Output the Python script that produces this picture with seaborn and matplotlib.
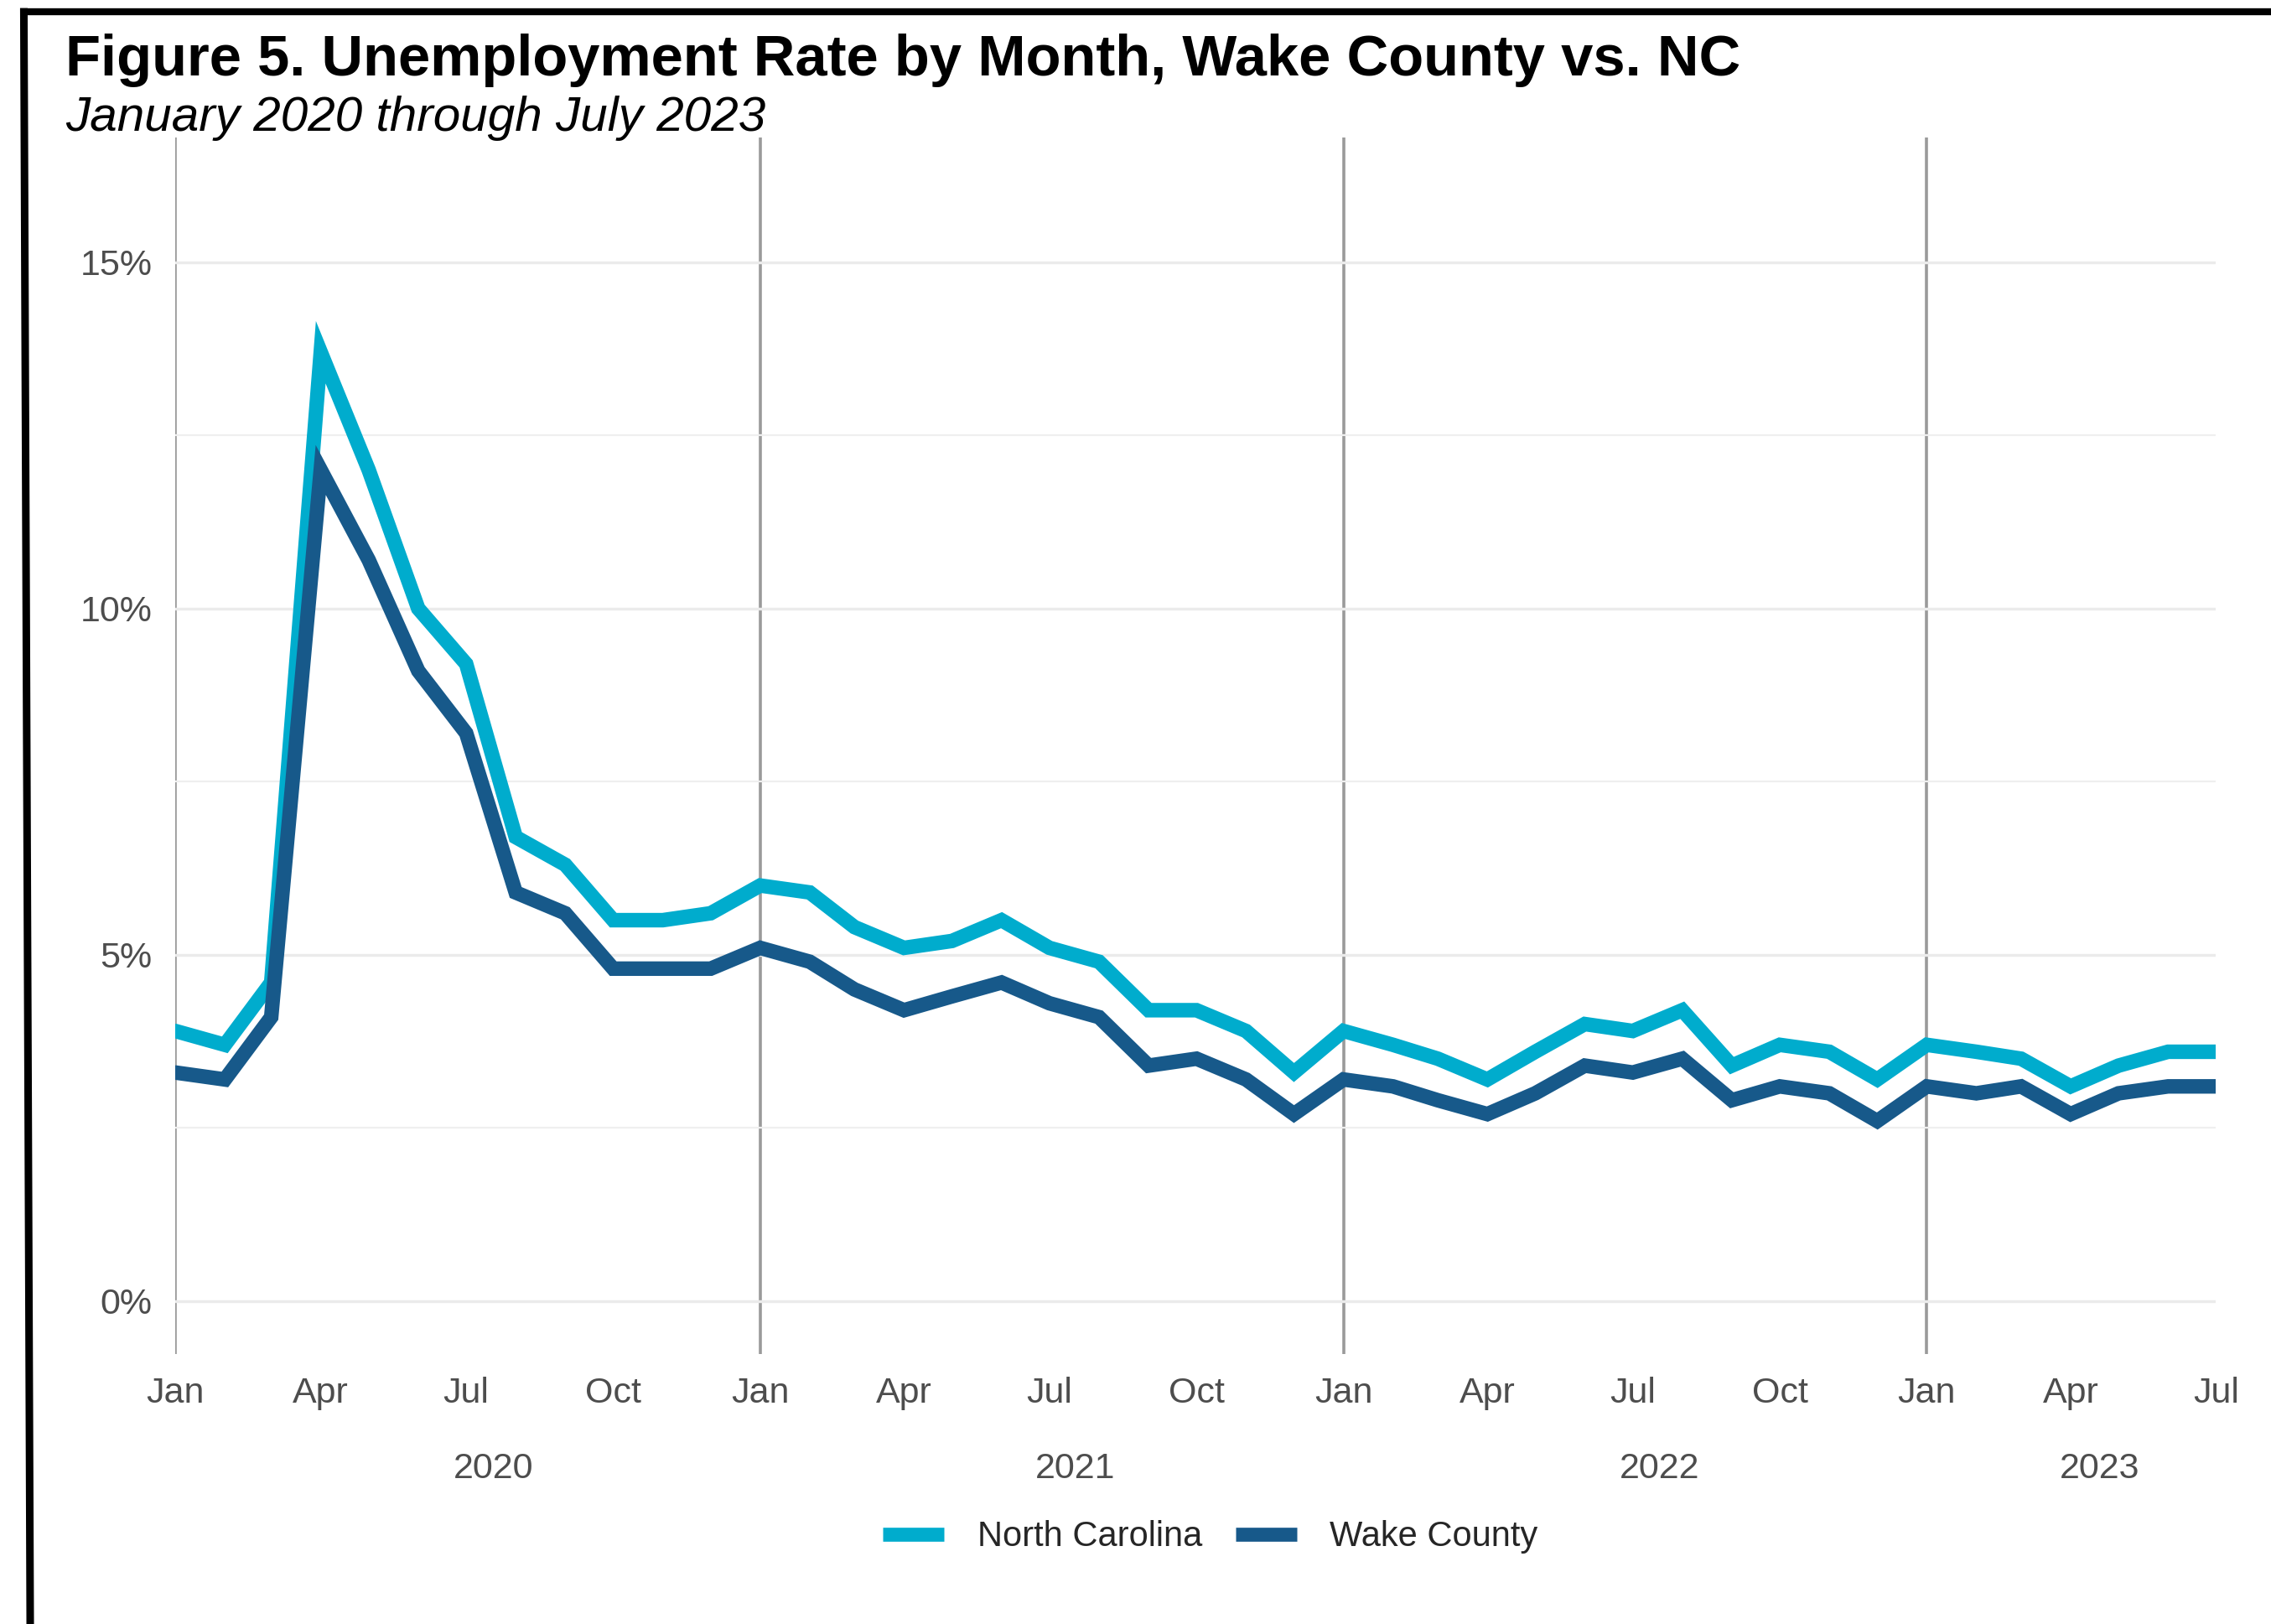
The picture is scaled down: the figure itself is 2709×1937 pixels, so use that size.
import pandas as pd
import matplotlib.pyplot as plt
import matplotlib.dates as mdates
import matplotlib.transforms as mtransforms
from matplotlib.lines import Line2D
from matplotlib.ticker import MultipleLocator, FuncFormatter
import seaborn as sns

# Monthly unemployment rate (%), Jan 2020 - Jul 2023
months = pd.date_range("2020-01-01", "2023-07-01", freq="MS")
nc_rate = [3.9, 3.7, 4.6, 13.7, 12.0, 10.0, 9.2, 6.7, 6.3, 5.5, 5.5, 5.6,
           6.0, 5.9, 5.4, 5.1, 5.2, 5.5, 5.1, 4.9, 4.2, 4.2, 3.9, 3.3,
           3.9, 3.7, 3.5, 3.2, 3.6, 4.0, 3.9, 4.2, 3.4, 3.7, 3.6, 3.2,
           3.7, 3.6, 3.5, 3.1, 3.4, 3.6, 3.6]
wake_rate = [3.3, 3.2, 4.1, 12.0, 10.7, 9.1, 8.2, 5.9, 5.6, 4.8, 4.8, 4.8,
             5.1, 4.9, 4.5, 4.2, 4.4, 4.6, 4.3, 4.1, 3.4, 3.5, 3.2, 2.7,
             3.2, 3.1, 2.9, 2.7, 3.0, 3.4, 3.3, 3.5, 2.9, 3.1, 3.0, 2.6,
             3.1, 3.0, 3.1, 2.7, 3.0, 3.1, 3.1]
series_names = ["North Carolina", "Wake County"]
series_colors = ["#00ACCD", "#17598A"]
year_labels = ["2020", "2021", "2022", "2023"]
year_label_dates = pd.to_datetime(["2020-07-18", "2021-07-17", "2022-07-18", "2023-04-19"])

df = pd.DataFrame({
    "month": list(months) * 2,
    "rate": nc_rate + wake_rate,
    "area": [series_names[0]] * len(months) + [series_names[1]] * len(months),
})

sns.set_theme(style="white")
plt.rcParams["font.family"] = ["Liberation Sans", "DejaVu Sans"]

fig = plt.figure(figsize=(27.09, 19.37), dpi=100)
ax = fig.add_axes([0.0772, 0.166, 0.8986, 0.7493])

sns.lineplot(data=df, x="month", y="rate", hue="area", hue_order=series_names,
             palette=series_colors, linewidth=12.5, ax=ax, legend=False,
             solid_joinstyle="miter")

ax.set_xlim(months[0], months[-1])
ax.set_ylim(-0.77, 16.8)

# y axis: major every 5, minor every 2.5
ax.yaxis.set_major_locator(MultipleLocator(5))
ax.yaxis.set_minor_locator(MultipleLocator(2.5))
ax.yaxis.set_major_formatter(FuncFormatter(lambda v, p: f"{v:.0f}%"))
ax.yaxis.grid(True, which="major", color="#EBEBEB", linewidth=2.4)
ax.yaxis.grid(True, which="minor", color="#EFEFEF", linewidth=1.6)

# x axis: Jan major (with year lines), other quarters minor
ax.xaxis.set_major_locator(mdates.MonthLocator(bymonth=[1]))
ax.xaxis.set_minor_locator(mdates.MonthLocator(bymonth=[4, 7, 10]))
ax.xaxis.set_major_formatter(mdates.DateFormatter("%b"))
ax.xaxis.set_minor_formatter(mdates.DateFormatter("%b"))
ax.xaxis.grid(True, which="major", color="#9A9A9A", linewidth=2.6)
ax.set_axisbelow(True)

ax.tick_params(axis="x", which="both", length=0, pad=19, labelsize=31, labelcolor="#4D4D4D")
ax.tick_params(axis="y", which="both", length=0, pad=20, labelsize=31, labelcolor="#4D4D4D")
ax.set_xlabel("")
ax.set_ylabel("")
for s in ax.spines.values():
    s.set_visible(False)

# year labels under the month ticks
trans = mtransforms.blended_transform_factory(ax.transData, fig.transFigure)
for d, lab in zip(year_label_dates, year_labels):
    ax.text(d, 0.0955, lab, transform=trans, ha="center", va="center",
            fontsize=31, color="#4D4D4D")

# legend
handles = [Line2D([0], [0], color=c, linewidth=12, solid_capstyle="butt") for c in series_colors]
fig.legend(handles, series_names, loc="center", bbox_to_anchor=(0.533, 0.0535), ncol=2,
           frameon=False, fontsize=30, handlelength=1.75, handletextpad=0.95,
           columnspacing=0.95)

# titles
fig.text(0.0287, 0.9536, "Figure 5. Unemployment Rate by Month, Wake County vs. NC",
         fontsize=49.5, fontweight="bold", color="black", ha="left", va="baseline")
fig.text(0.0287, 0.9197, "January 2020 through July 2023", fontsize=42,
         fontstyle="italic", color="black", ha="left", va="baseline")

# outer frame (top and left edges)
fig.add_artist(Line2D([0.0090, 1.0], [0.9928, 0.9928], transform=fig.transFigure,
                      color="black", linewidth=6, solid_capstyle="butt"))
fig.add_artist(Line2D([0.0105, 0.0133], [0.9950, 0.0], transform=fig.transFigure,
                      color="black", linewidth=6.5, solid_capstyle="butt"))

fig.savefig("out.png", dpi=100, facecolor="white")
